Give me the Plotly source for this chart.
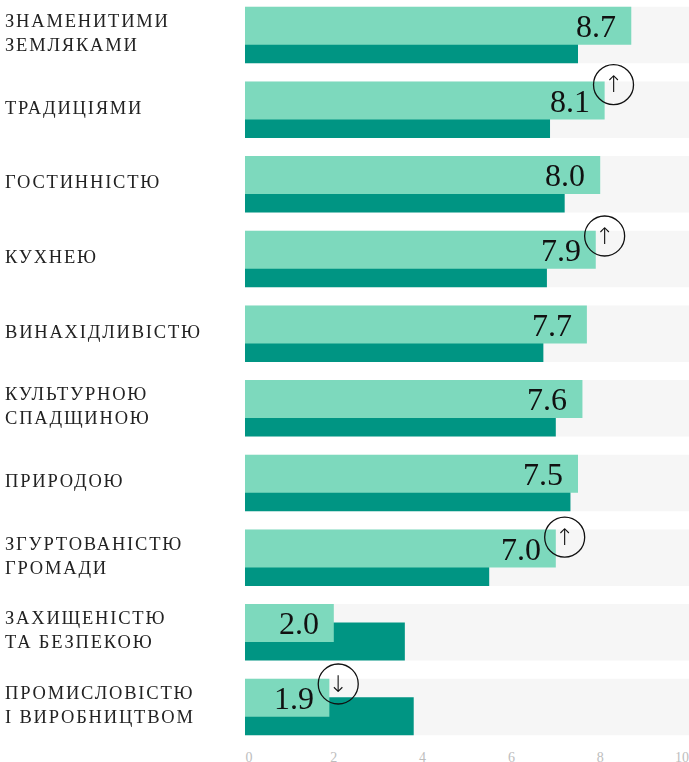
import plotly.graph_objects as go

labels = ["ЗНАМЕНИТИМИ<br>ЗЕМЛЯКАМИ", "ТРАДИЦІЯМИ", "ГОСТИННІСТЮ", "КУХНЕЮ", "ВИНАХІДЛИВІСТЮ",
          "КУЛЬТУРНОЮ<br>СПАДЩИНОЮ", "ПРИРОДОЮ", "ЗГУРТОВАНІСТЮ<br>ГРОМАДИ",
          "ЗАХИЩЕНІСТЮ<br>ТА БЕЗПЕКОЮ", "ПРОМИСЛОВІСТЮ<br>І ВИРОБНИЦТВОМ"]
light_values = [8.7, 8.1, 8.0, 7.9, 7.7, 7.6, 7.5, 7.0, 2.0, 1.9]
dark_values = [7.5, 6.87, 7.2, 6.8, 6.72, 7.0, 7.33, 5.5, 3.6, 3.8]
track_max = 10
changes = {1: "↑", 3: "↑", 7: "↑", 9: "↓"}
change_lift_px = {1: 25, 3: 23, 7: 20.5, 9: 23}
tick_vals = [0.09, 2, 4, 6, 8, 9.84]
tick_text = ["0", "2", "4", "6", "8", "10"]

rows = list(range(len(labels)))
SERIF = "Liberation Serif"
PITCH = 74.67

fig = go.Figure()
fig.add_bar(y=rows, x=[track_max] * len(rows), orientation="h", width=56.5 / PITCH,
            offset=-28.25 / PITCH, marker=dict(color="#f6f6f6", line_width=0), hoverinfo="skip")
fig.add_bar(y=rows, x=dark_values, orientation="h", width=38 / PITCH,
            offset=-9.75 / PITCH, marker=dict(color="#009583", line_width=0))
fig.add_bar(y=rows, x=light_values, orientation="h", width=38 / PITCH,
            offset=-28.25 / PITCH, marker=dict(color="#7dd9bd", line_width=0))

chg_rows = list(changes)
fig.add_scatter(
    x=[light_values[r] + 0.2 for r in chg_rows],
    y=[r - change_lift_px[r] / PITCH for r in chg_rows],
    mode="markers",
    opacity=0.999,
    marker=dict(symbol="circle-open", size=40, color="#111", line=dict(width=1.3, color="#111")),
    hoverinfo="skip",
)
fig.add_scatter(
    x=[light_values[r] + 0.2 for r in chg_rows],
    y=[r - (change_lift_px[r] - 2) / PITCH for r in chg_rows],
    mode="text",
    opacity=0.999,
    text=[changes[r] for r in chg_rows],
    textposition="middle center",
    textfont=dict(family="DejaVu Sans Light", size=23, color="#111"),
    hoverinfo="skip",
)

annotations = []
for r in rows:
    annotations.append(dict(x=0, xref="paper", xshift=-242, y=r - 2 / PITCH, yref="y", text=labels[r],
                            xanchor="left", yanchor="middle", align="left", showarrow=False,
                            font=dict(family=SERIF, size=18.5, color="#222")))
    annotations.append(dict(x=light_values[r], xref="x", xshift=-13, y=r - 9 / PITCH, yref="y",
                            text=f"{light_values[r]:.1f}", xanchor="right", yanchor="middle",
                            showarrow=False, font=dict(family=SERIF, size=32, color="#111")))

fig.update_layout(
    width=689, height=762, margin=dict(l=245, r=0, t=0, b=20), barmode="overlay",
    showlegend=False, paper_bgcolor="white", plot_bgcolor="white", annotations=annotations,
    xaxis=dict(range=[0, 10], tickvals=tick_vals, ticktext=tick_text, showgrid=False, zeroline=False,
               ticks="outside", ticklen=2, tickcolor="rgba(0,0,0,0)", showline=False,
               automargin=False, tickfont=dict(family=SERIF, size=14, color="#bdbdbd")),
    yaxis=dict(range=[9.469, -0.469], showticklabels=False, showgrid=False, zeroline=False),
)

post = """
document.body.style.margin = '0';
document.querySelectorAll('.annotation-text').forEach(function (t) {
  if (!/[0-9]/.test(t.textContent)) { t.style.letterSpacing = '1.8px'; }
});
"""
fig.write_html("out.html", post_script=post, config={"displayModeBar": False})
